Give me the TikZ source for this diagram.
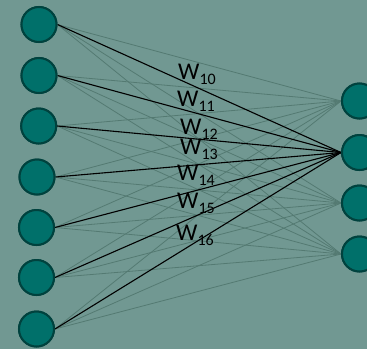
\documentclass[tikz,border=0pt]{standalone}
\usepackage{fontspec}
\setmainfont{Carlito}
\definecolor{bgc}{RGB}{113,152,146}
\definecolor{nfill}{RGB}{0,112,106}
\definecolor{nborder}{RGB}{0,66,62}
\definecolor{glines}{RGB}{84,122,114}
\begin{document}
\begin{tikzpicture}[x=1pt,y=-1pt,
  neuron/.style={circle,fill=nfill,draw=nborder,line width=2pt,minimum size=35pt,inner sep=0pt},
  faint/.style={draw=glines,line width=0.8pt},
  strong/.style={draw=black,line width=1.1pt},
  wlab/.style={anchor=base west,inner sep=0pt,text=black}]
\fill[bgc] (0,0) rectangle (367,349);
\useasboundingbox (0,0) rectangle (367,349);
\node[neuron] (i0) at (39,24.5) {};
\node[neuron] (i1) at (39,75.5) {};
\node[neuron] (i2) at (38.7,126) {};
\node[neuron] (i3) at (37,177) {};
\node[neuron] (i4) at (36.5,227.5) {};
\node[neuron] (i5) at (36.5,277.5) {};
\node[neuron] (i6) at (36.5,329) {};
\node[neuron] (o0) at (359.5,101) {};
\node[neuron] (o1) at (359.5,152.5) {};
\node[neuron] (o2) at (359.5,203) {};
\node[neuron] (o3) at (359.5,254) {};
\foreach \i in {0,...,6}{
  \foreach \o in {0,2,3}{
    \draw[faint] (i\i.east) -- (o\o.west);
  }
}
\foreach \i in {0,...,6}{
  \draw[strong] (i\i.east) -- (o1.west);
}
\foreach \i in {0,...,6}{
  \node[neuron] at (i\i) {};
}
\foreach \o in {0,...,3}{
  \node[neuron] at (o\o) {};
}
\node[wlab] (w10) at (178,79.3) {\fontsize{24}{24}\selectfont W\raisebox{-5pt}{\fontsize{16}{16}\selectfont 10}};
\node[wlab] (w11) at (177,106.7) {\fontsize{24}{24}\selectfont W\raisebox{-5pt}{\fontsize{16}{16}\selectfont 11}};
\node[wlab] (w12) at (180,134) {\fontsize{24}{24}\selectfont W\raisebox{-5pt}{\fontsize{16}{16}\selectfont 12}};
\node[wlab] (w13) at (180,154) {\fontsize{24}{24}\selectfont W\raisebox{-5pt}{\fontsize{16}{16}\selectfont 13}};
\node[wlab] (w14) at (177,180) {\fontsize{24}{24}\selectfont W\raisebox{-5pt}{\fontsize{16}{16}\selectfont 14}};
\node[wlab] (w15) at (177,208) {\fontsize{24}{24}\selectfont W\raisebox{-5pt}{\fontsize{16}{16}\selectfont 15}};
\node[wlab] (w16) at (176,240) {\fontsize{24}{24}\selectfont W\raisebox{-5pt}{\fontsize{16}{16}\selectfont 16}};
\end{tikzpicture}
\end{document}
